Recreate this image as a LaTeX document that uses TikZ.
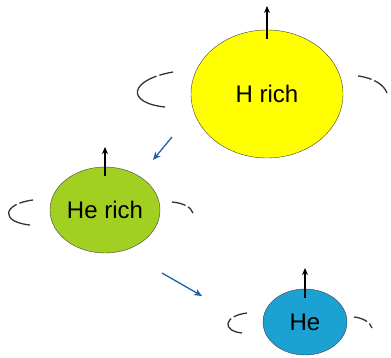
\documentclass[tikz,border=0pt]{standalone}
\usepackage{fontspec}
\setmainfont{Liberation Sans}
\usetikzlibrary{shapes.geometric,arrows.meta}
\definecolor{hyellow}{HTML}{FFFF00}
\definecolor{hegreen}{HTML}{A2D022}
\definecolor{heblue}{HTML}{1BA1D2}
\definecolor{flowblue}{HTML}{1F5FAA}
\tikzset{
  star/.style={ellipse, draw=black!75, thin, inner sep=0pt, text=black,
    font=\fontsize{24}{24}\selectfont},
  spin/.style={-{Stealth[length=7pt,width=6pt]}, line width=1.2pt},
  rot/.style={line width=1.3pt, black!80, dash pattern=on 14pt off 3pt on 200pt},
  evol/.style={-{Stealth[length=8pt,width=7pt]}, line width=1.3pt, flowblue}
}
\begin{document}
\begin{tikzpicture}[x=1pt,y=-1pt]
  \useasboundingbox (0,0) rectangle (391,358);

  % H rich star
  \node[star, fill=hyellow, minimum width=152pt, minimum height=128pt] (hrich) at (267,94) {H rich};
  \coordinate (hspin) at (267,6);
  \draw[spin] ([yshift=-9pt]hrich.north) -- (hspin);
  \draw[rot] (173,72) .. controls (128,80) and (126,103) .. (165,107);
  \draw[rot] (358,76) .. controls (374,78) and (384,85) .. (387,93);

  % He rich star
  \node[star, fill=hegreen, minimum width=110pt, minimum height=86pt] (herich) at (105,210) {He rich};
  \coordinate (herichspin) at (105,147);
  \draw[spin] ([yshift=-9pt]herich.north) -- (herichspin);
  \draw[rot] (33,200) .. controls (2,204) and (0,222) .. (30,225);
  \draw[rot] (172,202) .. controls (183,203) and (191,207) .. (193,213);

  % He star
  \node[star, fill=heblue, minimum width=84pt, minimum height=66pt] (he) at (305,322) {He};
  \coordinate (hespin) at (305,268);
  \draw[spin] ([yshift=-9pt]he.north) -- (hespin);
  \draw[rot] (247,313) .. controls (223,316) and (222,331) .. (242,333);
  \draw[rot] (354,317) .. controls (363,318) and (370,322) .. (372,328);

  % evolution arrows
  \coordinate (a1) at (172,137);
  \coordinate (b1) at (153,160);
  \coordinate (a2) at (162,273);
  \coordinate (b2) at (202,296);
  \draw[evol] (a1) -- (b1);
  \draw[evol] (a2) -- (b2);
\end{tikzpicture}
\end{document}
